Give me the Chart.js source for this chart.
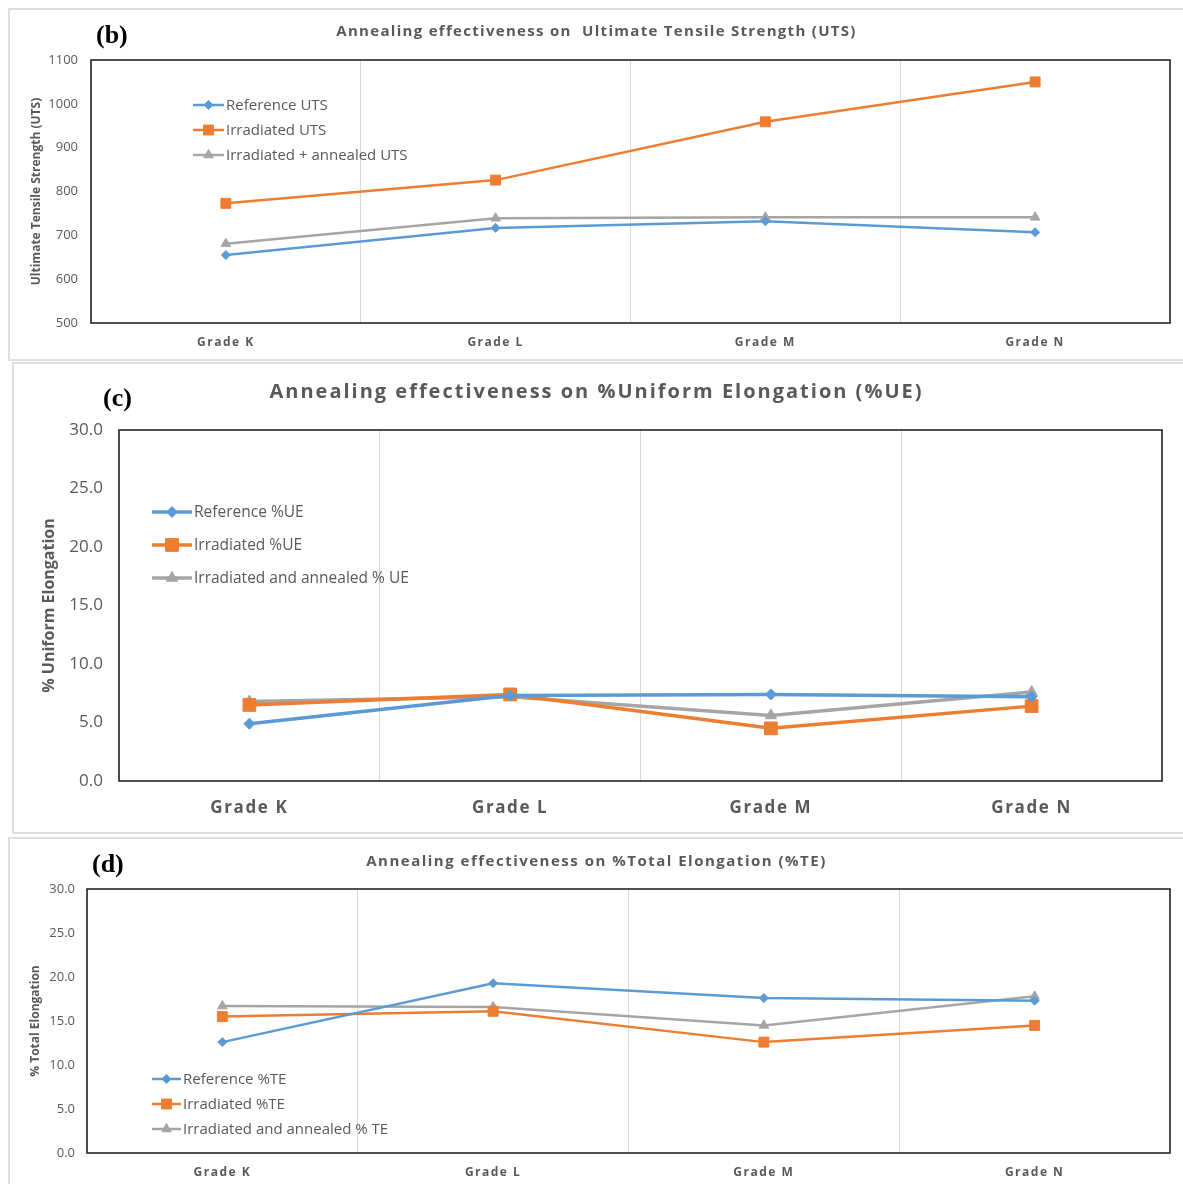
<!DOCTYPE html>
<html>
<head>
<meta charset="utf-8">
<script src="https://cdn.jsdelivr.net/npm/chart.js@4"></script>
<style>
  body { margin: 0; background: #fff; width: 1183px; height: 1184px; position: relative; overflow: hidden; font-family: 'Open Sans', sans-serif; }
  .panel { position: absolute; border: 2px solid #dedede; box-sizing: border-box; }
  canvas { position: absolute; left: 0; }
  .title { position: absolute; left: 0; width: 1193px; text-align: center; color: #595959; font-weight: 700; white-space: pre; }
  .tag { position: absolute; font-family: 'Liberation Serif', serif; font-weight: bold; font-size: 26px; color: #000; }
</style>
</head>
<body>
<div class="panel" style="left:8px; top:8px; width:1190px; height:353px;"></div>
<div class="panel" style="left:12px; top:362px; width:1190px; height:472px;"></div>
<div class="panel" style="left:8px; top:837px; width:1190px; height:360px;"></div>

<canvas id="uts" width="1183" height="360" style="top:0px"></canvas>
<canvas id="ue" width="1183" height="472" style="top:362px"></canvas>
<canvas id="te" width="1183" height="348" style="top:836px"></canvas>

<div class="tag" style="left:96px; top:20px;">(b)</div>
<div class="title" style="top:20px; font-size:15px; letter-spacing:1.3px;">Annealing effectiveness on  Ultimate Tensile Strength (UTS)</div>
<div class="tag" style="left:103px; top:383px;">(c)</div>
<div class="title" style="top:377px; font-size:20px; letter-spacing:2px;">Annealing effectiveness on %Uniform Elongation (%UE)</div>
<div class="tag" style="left:92px; top:849px;">(d)</div>
<div class="title" style="top:850px; font-size:15px; letter-spacing:1.5px;">Annealing effectiveness on %Total Elongation (%TE)</div>

<script>
const grades = ['Grade K', 'Grade L', 'Grade M', 'Grade N'];

const utsReference = [655, 717, 732, 707];
const utsIrradiated = [773, 826, 959, 1050];
const utsAnnealed = [681, 739, 741, 741];

const ueReference = [4.9, 7.3, 7.4, 7.2];
const ueIrradiated = [6.5, 7.4, 4.5, 6.4];
const ueAnnealed = [6.8, 7.2, 5.6, 7.6];

const teReference = [12.6, 19.3, 17.6, 17.3];
const teIrradiated = [15.5, 16.1, 12.6, 14.5];
const teAnnealed = [16.7, 16.6, 14.5, 17.8];

const BLUE = '#5b9bd5';
const ORANGE = '#ed7d31';
const GRAY = '#a5a5a5';
const TEXT = '#595959';

Chart.defaults.font.family = "'Open Sans', sans-serif";
Chart.defaults.color = TEXT;

// frame round the plot area, legend inside it, spaced category labels
const plotFrame = {
  id: 'plotFrame',
  beforeDraw(chart, args, opts) {
    const xs = chart.scales.x;
    if (!xs._spaced) {
      const orig = xs.drawLabels.bind(xs);
      xs.drawLabels = (area) => {
        chart.ctx.save();
        chart.ctx.letterSpacing = opts.spacing;
        orig(area);
        chart.ctx.restore();
      };
      xs._spaced = true;
    }
  },
  beforeDatasetsDraw(chart) {
    const { ctx, chartArea: a } = chart;
    ctx.save();
    ctx.strokeStyle = '#262626';
    ctx.lineWidth = 1.6;
    ctx.strokeRect(a.left, a.top, a.right - a.left, a.bottom - a.top);
    ctx.restore();
  },
  afterDatasetsDraw(chart, args, opts) {
    const ctx = chart.ctx;
    const lg = opts.legend;
    chart.data.datasets.forEach((ds, i) => {
      const y = lg.y + i * lg.gap;
      ctx.save();
      ctx.strokeStyle = ds.borderColor;
      ctx.lineWidth = ds.borderWidth;
      ctx.beginPath();
      ctx.moveTo(lg.x, y);
      ctx.lineTo(lg.x + lg.len, y);
      ctx.stroke();
      ctx.fillStyle = ds.backgroundColor;
      ctx.lineWidth = 1;
      Chart.helpers.drawPoint(ctx, { pointStyle: ds.pointStyle, radius: ds.pointRadius, rotation: 0, borderWidth: 1 }, lg.x + lg.len / 2, y);
      ctx.fillStyle = TEXT;
      ctx.font = `${lg.size}px 'Open Sans', sans-serif`;
      ctx.textBaseline = 'middle';
      ctx.fillText(ds.label, lg.x + lg.len + 2, y + 1);
      ctx.restore();
    });
  }
};

function series(label, data, color, style, radius, width) {
  return {
    label, data,
    borderColor: color,
    backgroundColor: color,
    borderWidth: width,
    pointStyle: style,
    pointRadius: radius,
    pointBorderWidth: 1,
    tension: 0
  };
}

function makeChart(id, cfg) {
  return new Chart(document.getElementById(id), {
    type: 'line',
    data: {
      labels: grades,
      datasets: [
        series(cfg.names[0], cfg.values[0], BLUE, 'rectRot', cfg.marks[0], cfg.lw),
        series(cfg.names[1], cfg.values[1], ORANGE, 'rect', cfg.marks[1], cfg.lw),
        series(cfg.names[2], cfg.values[2], GRAY, 'triangle', cfg.marks[2], cfg.lw)
      ]
    },
    options: {
      responsive: false,
      animation: false,
      layout: { autoPadding: false, padding: { left: 0, top: cfg.top, right: cfg.right, bottom: 0 } },
      plugins: {
        legend: { display: false },
        tooltip: { enabled: false },
        plotFrame: { spacing: cfg.spacing, legend: cfg.legend }
      },
      scales: {
        x: {
          offset: true,
          grid: { offset: true, color: '#d9d9d9', lineWidth: 1, drawTicks: false },
          border: { display: false },
          ticks: { color: TEXT, padding: cfg.xPad, font: { size: cfg.xFont, weight: 'bold' } },
          afterFit: (s) => { s.height = cfg.xHeight; }
        },
        y: {
          min: cfg.min, max: cfg.max,
          grid: { display: false, drawTicks: false },
          border: { display: false },
          ticks: { stepSize: cfg.step, color: TEXT, padding: cfg.yPad, font: { size: cfg.yFont }, callback: cfg.fmt },
          title: { display: true, text: cfg.yTitle, color: TEXT, font: { size: cfg.titleFont, weight: 'bold' }, padding: { top: cfg.titlePad, bottom: 0 } },
          afterFit: (s) => { s.width = cfg.yWidth; }
        }
      }
    },
    plugins: [plotFrame]
  });
}

makeChart('uts', {
  names: ['Reference UTS', 'Irradiated UTS', 'Irradiated + annealed UTS'],
  values: [utsReference, utsIrradiated, utsAnnealed],
  marks: [4.5, 7, 5.5], lw: 2.5,
  top: 60, right: 13, xHeight: 37, yWidth: 91,
  min: 500, max: 1100, step: 100, fmt: (v) => v,
  xPad: 12, xFont: 12, yPad: 13, yFont: 13,
  yTitle: 'Ultimate Tensile Strength (UTS)', titleFont: 12, titlePad: 29,
  spacing: '1.5px',
  legend: { x: 193, y: 105, gap: 25, len: 31, size: 15 }
});

makeChart('ue', {
  names: ['Reference %UE', 'Irradiated %UE', 'Irradiated and annealed % UE'],
  values: [ueReference, ueIrradiated, ueAnnealed],
  marks: [5.5, 9, 6.5], lw: 3.5,
  top: 68, right: 21, xHeight: 53, yWidth: 119,
  min: 0, max: 30, step: 5, fmt: (v) => Number(v).toFixed(1),
  xPad: 17, xFont: 17, yPad: 16, yFont: 17,
  yTitle: '% Uniform Elongation', titleFont: 16, titlePad: 40,
  spacing: '1.6px',
  legend: { x: 152, y: 150, gap: 33, len: 40, size: 15.5 }
});

makeChart('te', {
  names: ['Reference %TE', 'Irradiated %TE', 'Irradiated and annealed % TE'],
  values: [teReference, teIrradiated, teAnnealed],
  marks: [4.5, 7, 5.5], lw: 2.5,
  top: 53, right: 13, xHeight: 31, yWidth: 87,
  min: 0, max: 30, step: 5, fmt: (v) => Number(v).toFixed(1),
  xPad: 12, xFont: 12, yPad: 12, yFont: 13,
  yTitle: '% Total Elongation', titleFont: 12, titlePad: 28,
  spacing: '1.5px',
  legend: { x: 152, y: 243, gap: 25, len: 29, size: 15 }
});
</script>
</body>
</html>
